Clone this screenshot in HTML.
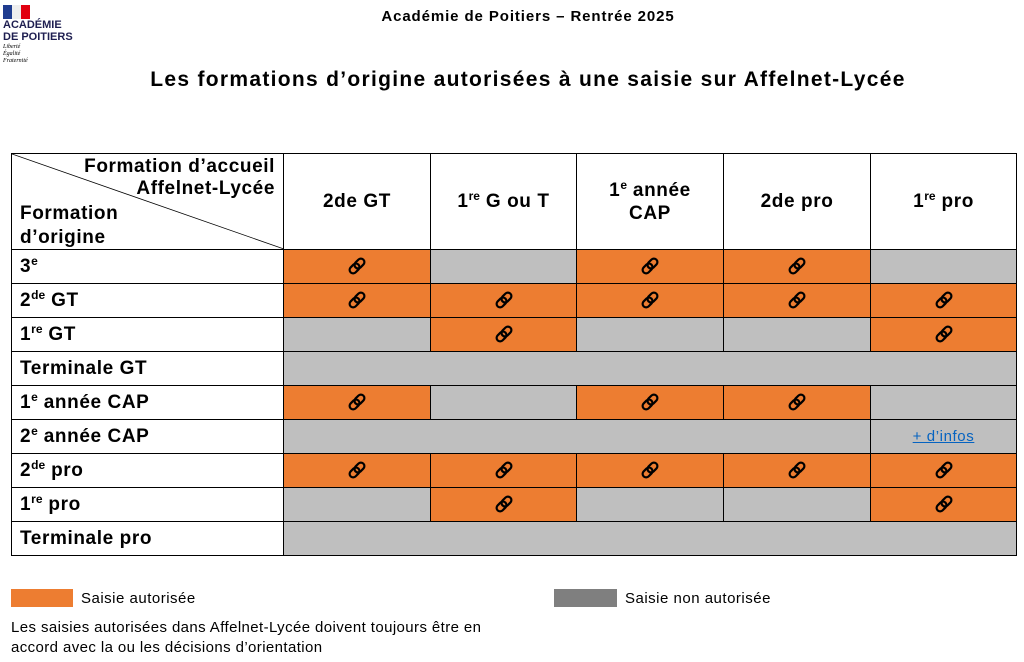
<!DOCTYPE html>
<html><head><meta charset="utf-8"><style>
body{margin:0;width:1024px;height:662px;background:#fff;position:relative;font-family:"Liberation Sans",sans-serif;overflow:hidden}
.a{position:absolute}
table{position:absolute;left:11px;top:153px;border-collapse:collapse;table-layout:fixed}
td{border:1px solid #000;padding:0;height:33px;text-align:center;font-size:19px;font-weight:bold;letter-spacing:0.6px}
td.l{text-align:left;padding-left:8px}
.o{background:#ED7D31}.g{background:#BFBFBF}
sup{font-size:12px;vertical-align:7px;line-height:0;letter-spacing:0}
.h td{height:95px}
</style></head><body>
<svg class="a" style="left:3px;top:5px" width="27" height="14"><rect width="9" height="14" fill="#1f3c8f"/><rect x="9" width="9" height="14" fill="#eee"/><rect x="18" width="9" height="14" fill="#e1000f"/></svg>
<div class="a" style="left:3px;top:19px;font-size:11px;font-weight:bold;color:#1e1e50;line-height:12px">ACADÉMIE<br>DE POITIERS</div>
<div class="a" style="left:3px;top:44px;font-size:6px;font-style:italic;font-family:'Liberation Serif',serif;line-height:7px">Liberté<br>Égalité<br>Fraternité</div>
<div class="a" style="left:0;width:1056px;top:8px;text-align:center;font-size:15px;font-weight:bold;letter-spacing:0.9px">Académie de Poitiers – Rentrée 2025</div>
<div class="a" style="left:0;width:1056px;top:68px;text-align:center;font-size:21px;font-weight:bold;letter-spacing:1.3px">Les formations d’origine autorisées à une saisie sur Affelnet-Lycée</div>
<svg width="0" height="0" style="position:absolute"><defs><g id="k"><g fill="none" stroke="#000" stroke-width="2.2"><rect x="-9" y="-3.5" width="11" height="7" rx="3.5" transform="rotate(-45)"/><rect x="-2" y="-3.5" width="11" height="7" rx="3.5" transform="rotate(-45)"/></g></g></defs></svg>
<table>
<colgroup><col style="width:272px"><col style="width:147px"><col style="width:146px"><col style="width:147px"><col style="width:147px"><col style="width:146px"></colgroup>
<tr class="h"><td class="l" style="position:relative;padding:0">
<svg class="a" style="left:0;top:0" width="272" height="95"><line x1="0" y1="0" x2="272" y2="95" stroke="#000" stroke-width="0.8"/></svg>
<div class="a" style="right:8px;top:2px;text-align:right;line-height:22px">Formation d’accueil<br>Affelnet-Lycée</div>
<div class="a" style="left:8px;top:48px;text-align:left;line-height:24px">Formation<br>d’origine</div></td>
<td>2de GT</td><td>1<sup>re</sup> G ou T</td><td style="line-height:23px">1<sup>e</sup> année<br>CAP</td><td>2de pro</td><td>1<sup>re</sup> pro</td></tr>
<tr><td class="l">3<sup>e</sup></td><td class="o">L</td><td class="g"></td><td class="o">L</td><td class="o">L</td><td class="g"></td></tr>
<tr><td class="l">2<sup>de</sup> GT</td><td class="o">L</td><td class="o">L</td><td class="o">L</td><td class="o">L</td><td class="o">L</td></tr>
<tr><td class="l">1<sup>re</sup> GT</td><td class="g"></td><td class="o">L</td><td class="g"></td><td class="g"></td><td class="o">L</td></tr>
<tr><td class="l">Terminale GT</td><td class="g" colspan="5"></td></tr>
<tr><td class="l">1<sup>e</sup> année CAP</td><td class="o">L</td><td class="g"></td><td class="o">L</td><td class="o">L</td><td class="g"></td></tr>
<tr><td class="l">2<sup>e</sup> année CAP</td><td class="g" colspan="4"></td><td class="g" style="font-weight:normal;font-size:15px;color:#0563C1;text-decoration:underline">+ d’infos</td></tr>
<tr><td class="l">2<sup>de</sup> pro</td><td class="o">L</td><td class="o">L</td><td class="o">L</td><td class="o">L</td><td class="o">L</td></tr>
<tr><td class="l">1<sup>re</sup> pro</td><td class="g"></td><td class="o">L</td><td class="g"></td><td class="g"></td><td class="o">L</td></tr>
<tr><td class="l">Terminale pro</td><td class="g" colspan="5"></td></tr>
</table>
<div class="a" style="left:11px;top:589px;width:62px;height:18px;background:#ED7D31"></div>
<div class="a" style="left:81px;top:590px;font-size:15px;letter-spacing:0.5px">Saisie autorisée</div>
<div class="a" style="left:554px;top:589px;width:63px;height:18px;background:#7F7F7F"></div>
<div class="a" style="left:625px;top:590px;font-size:15px;letter-spacing:0.5px">Saisie non autorisée</div>
<div class="a" style="left:11px;top:618px;font-size:15px;line-height:20px;letter-spacing:0.4px">Les saisies autorisées dans Affelnet-Lycée doivent toujours être en<br>accord avec la ou les décisions d’orientation</div>
<script>
document.querySelectorAll('td.o').forEach(function(t){if(t.textContent=='L'){t.innerHTML='<svg width="22" height="22" viewBox="-11 -11 22 22" style="vertical-align:middle"><use href="#k"/></svg>';}});
</script>
</body></html>
